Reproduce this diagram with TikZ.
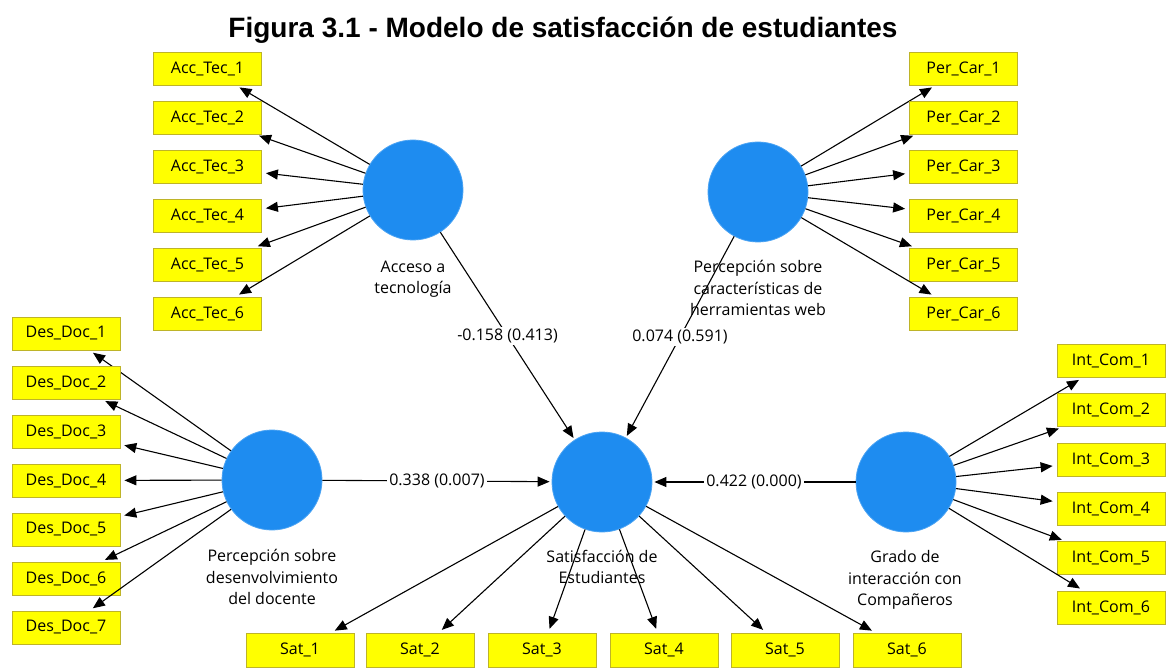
\documentclass[tikz,border=0pt]{standalone}
\usepackage{fontspec}
\setmainfont{Open Sans}
\newfontfamily\titlefont{Liberation Sans}
\usetikzlibrary{arrows.meta}
\definecolor{lvblue}{RGB}{30,140,240}
\definecolor{boxyel}{RGB}{255,255,0}
\definecolor{boxedge}{RGB}{190,180,40}
\begin{document}
\begin{tikzpicture}[x=1pt,y=-1pt,
  ind/.style={rectangle, fill=boxyel, draw=boxedge, line width=0.8pt, minimum width=108pt, minimum height=33pt, inner sep=0pt, font=\fontsize{16}{18}\selectfont},
  lv/.style={circle, fill=lvblue, draw=lvblue!80, line width=0.8pt, minimum size=100pt, inner sep=0pt},
  lvlabel/.style={align=center, font=\fontsize{16}{21.5}\selectfont, inner sep=0pt},
  arr/.style={-{Triangle[length=12pt,width=10pt]}, line width=1.1pt, shorten >=4pt},
  coef/.style={fill=white, inner sep=2pt, font=\fontsize{16}{18}\selectfont}]
\useasboundingbox (0,0) rectangle (1166,668);

\node[font=\titlefont\bfseries\fontsize{28}{32}\selectfont] (title) at (563,30) {Figura 3.1 - Modelo de satisfacción de estudiantes};

% latent variables
\node[lv] (acc) at (413,190) {};
\node[lv] (per) at (758,192) {};
\node[lv] (des) at (272,480) {};
\node[lv] (sat) at (602,482) {};
\node[lv] (int) at (906,482) {};

% latent labels
\node[lvlabel] (accl) at (413,279) {Acceso a\\tecnología};
\node[lvlabel] (perl) at (758,288) {Percepción sobre\\características de\\herramientas web};
\node[lvlabel] (desl) at (272,577) {Percepción sobre\\desenvolvimiento\\del docente};
\node[lvlabel] (satl) at (602,567) {Satisfacción de\\Estudiantes};
\node[lvlabel] (intl) at (905,580) {Grado de\\interacción con\\Compañeros};

% indicators
\foreach \i [evaluate=\i as \yy using 68.5+49*(\i-1)] in {1,...,6} {
  \node[ind] (acc\i) at (207.5,\yy) {Acc\_Tec\_\i};
  \node[ind] (per\i) at (963.5,\yy) {Per\_Car\_\i};
  \draw[arr] (acc) -- (acc\i);
  \draw[arr] (per) -- (per\i);
}
\foreach \i [evaluate=\i as \yy using 333.5+49*(\i-1)] in {1,...,7} {
  \node[ind] (des\i) at (66,\yy) {Des\_Doc\_\i};
  \draw[arr] (des) -- (des\i);
}
\foreach \i [evaluate=\i as \yy using 361+49.3*(\i-1)] in {1,...,6} {
  \node[ind] (int\i) at (1111,\yy) {Int\_Com\_\i};
  \draw[arr] (int) -- (int\i);
}
\foreach \i/\xx in {1/300,2/420,3/542,4/664,5/785,6/907} {
  \node[ind, minimum height=34pt] (sat\i) at (\xx,650) {Sat\_\i};
  \draw[arr] (sat) -- (sat\i);
}

% structural paths
\draw[arr, shorten >=2pt] (acc) -- node[coef] {-0.158 (0.413)} (sat);
\draw[arr, shorten >=2pt] (per) -- node[coef] {0.074 (0.591)} (sat);
\draw[arr, shorten >=2pt] (des) -- node[coef] {0.338 (0.007)} (sat);
\draw[arr, shorten >=2pt] (int) -- node[coef] {0.422 (0.000)} (sat);
\end{tikzpicture}
\end{document}
